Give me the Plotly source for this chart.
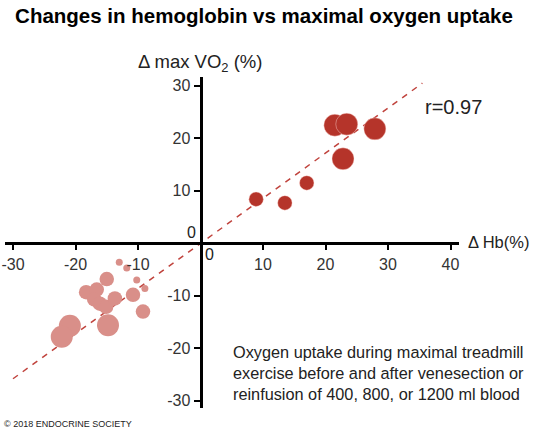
import plotly.graph_objects as go

# ---- data ----
reinf_hb = [8.9, 13.5, 17.0, 22.8, 21.5, 23.4, 27.9]
reinf_vo2 = [8.4, 7.7, 11.5, 16.1, 22.5, 22.7, 21.8]
reinf_vol = [800, 800, 800, 1200, 1200, 1200, 1200]

vene_hb = [-13.0, -11.8, -10.2, -8.9, -15.0, -18.3, -16.6, -17.0, -16.1, -15.1,
           -13.7, -10.8, -9.2, -14.8, -20.9, -22.2]
vene_vo2 = [-3.6, -4.7, -7.0, -8.6, -6.8, -9.3, -8.8, -10.7, -11.5, -12.1,
            -10.5, -9.8, -13.0, -15.6, -15.7, -17.8]
vene_vol = [400, 400, 400, 400, 800, 800, 800, 800, 800, 800,
            800, 800, 800, 1200, 1200, 1200]

fit_x = [-30, 35.5]
fit_y = [-25.8, 30.5]

x_ticks = [-30, -20, -10, 10, 20, 30, 40]
y_ticks = [-30, -20, -10, 10, 20, 30]

W, H = 535, 434
FONT = "Liberation Sans, Arial, sans-serif"
size_map = {400: 7, 800: 14.5, 1200: 22}

def px(x):
    return x / W

def py(y):
    return 1 - y / H

fig = go.Figure()
fig.add_trace(go.Scatter(x=fit_x, y=fit_y, mode="lines",
                         line=dict(color="#c0433d", width=1.5, dash="6px,6px"),
                         hoverinfo="skip", cliponaxis=False))
fig.add_trace(go.Scatter(x=vene_hb, y=vene_vo2, mode="markers",
                         marker=dict(size=[size_map[v] for v in vene_vol], color="#d98f89",
                                     opacity=1, line=dict(width=0)),
                         cliponaxis=False))
fig.add_trace(go.Scatter(x=reinf_hb, y=reinf_vo2, mode="markers",
                         marker=dict(size=[size_map[v] for v in reinf_vol], color="#b5342a",
                                     opacity=1,
                                     line=dict(width=0.6, color="rgba(255,220,215,0.7)")),
                         cliponaxis=False))

tickfont = dict(family=FONT, size=16, color="#333333")
fig.update_layout(
    width=W, height=H, showlegend=False,
    paper_bgcolor="white", plot_bgcolor="white",
    margin=dict(l=0, r=0, t=0, b=0, autoexpand=False),
    xaxis=dict(domain=[px(5), px(459)], range=[-31.28, 41.36], anchor="free",
               position=(H - 243.3) / H, showgrid=False, zeroline=False,
               showline=True, linewidth=3, linecolor="black",
               ticks="outside", ticklen=5, tickwidth=1.5, tickcolor="black",
               tickvals=x_ticks, ticktext=[str(v) for v in x_ticks], tickfont=tickfont),
    yaxis=dict(domain=[(H - 408) / H, (H - 77) / H], range=[-31.37, 31.68], anchor="free",
               position=200.5 / W, showgrid=False, zeroline=False,
               showline=True, linewidth=3, linecolor="black",
               ticks="outside", ticklen=6, tickwidth=1.5, tickcolor="black",
               tickvals=y_ticks, ticktext=[str(v) for v in y_ticks], tickfont=tickfont),
    title=dict(text="<b>Changes in hemoglobin vs maximal oxygen uptake</b>",
               x=px(264), xanchor="center", y=py(16), yanchor="middle",
               font=dict(family=FONT, size=20.5, color="black")),
)

ann = [
    dict(text="Δ max VO<sub>2</sub> (%)", x=px(200), y=py(63), xanchor="center", yanchor="middle", size=18.5),
    dict(text="Δ Hb(%)", x=px(466), y=py(242), xanchor="left", yanchor="middle", size=16.5),
    dict(text="r=0.97", x=px(423), y=py(107), xanchor="left", yanchor="middle", size=20),
    dict(text="0", x=px(191), y=py(232), xanchor="center", yanchor="middle", size=16),
    dict(text="0", x=px(209), y=py(254), xanchor="center", yanchor="middle", size=16),
    dict(text="Oxygen uptake during maximal treadmill<br>exercise before and after venesection or<br>reinfusion of 400, 800, or 1200 ml blood",
         x=px(231), y=py(373), xanchor="left", yanchor="middle", size=16.3, align="left"),
    dict(text="© 2018 ENDOCRINE SOCIETY", x=px(2), y=py(424), xanchor="left", yanchor="middle", size=9),
]
for a in ann:
    fig.add_annotation(text=a["text"], x=a["x"], y=a["y"], xref="paper", yref="paper",
                       xanchor=a["xanchor"], yanchor=a["yanchor"], showarrow=False,
                       align=a.get("align", "center"),
                       font=dict(family=FONT, size=a["size"], color="#222222"))

fig.write_html("out.html", config={"displayModeBar": False},
               post_script="document.body.style.margin='0';")
